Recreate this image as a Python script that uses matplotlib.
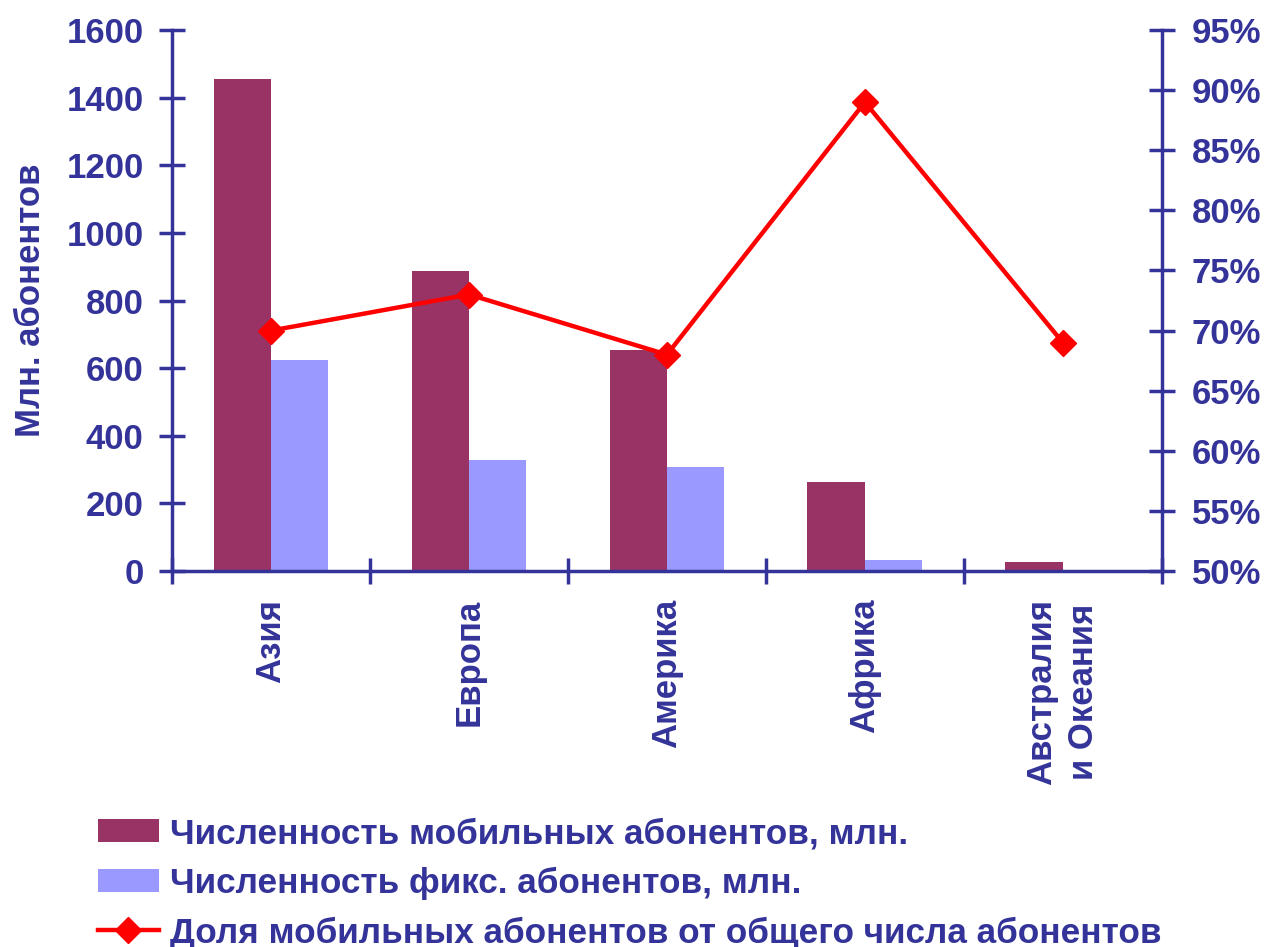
import matplotlib.pyplot as plt
import numpy as np

plt.rcParams['font.family'] = ['Liberation Sans', 'DejaVu Sans']
plt.rcParams['font.weight'] = 'bold'

regions = ['Азия', 'Европа', 'Америка', 'Африка', 'Австралия\nи Океания']
mobile = [1455, 887, 654, 263, 27]  # мобильные абоненты, млн
fixed = [624, 328, 308, 33, 4]  # фиксированные абоненты, млн
share = [70, 73, 68, 89, 69]  # доля мобильных, %

navy = '#333399'
x = np.arange(len(regions))
w = 0.29

fig = plt.figure(figsize=(12.67, 9.47), dpi=100)
ax = fig.add_axes([0.1358, 0.397, 0.7812, 0.5713])
ax2 = ax.twinx()

b1 = ax.bar(x - w / 2, mobile, w, color='#993366', label='Численность мобильных абонентов, млн.')
b2 = ax.bar(x + w / 2, fixed, w, color='#9999FF', label='Численность фикс. абонентов, млн.')
l1, = ax2.plot(x, share, color='red', lw=3.2, marker='D', ms=13,
               label='Доля мобильных абонентов от общего числа абонентов')

ax.set_xlim(-0.5, 4.5)
ax.set_ylim(0, 1600)
ax.set_yticks(np.arange(0, 1601, 200))
ax2.set_ylim(50, 95)
ax2.set_yticks(np.arange(50, 96, 5))
ax2.set_yticklabels([f'{v}%' for v in range(50, 96, 5)])

ax.set_xticks(x)
ax.set_xticklabels(regions, rotation=90, va='top', ha='center', multialignment='center',
                   linespacing=1.35)
ax.set_xticks(np.arange(-0.5, 5, 1), minor=True)
ax.tick_params(axis='x', which='major', length=0, pad=20, labelsize=25, labelcolor=navy)
ax.tick_params(axis='x', which='minor', direction='inout', length=19, width=2.5, color=navy)
ax.tick_params(axis='y', direction='inout', length=19, width=2.5, color=navy,
               labelsize=25, labelcolor=navy, pad=11)
ax2.tick_params(axis='y', direction='inout', length=19, width=2.5, color=navy,
                labelsize=25, labelcolor=navy, pad=12)

for a in (ax, ax2):
    a.spines['top'].set_visible(False)
    for s in ('left', 'right', 'bottom'):
        a.spines[s].set_color(navy)
        a.spines[s].set_linewidth(2.5)
ax.spines['right'].set_visible(False)
ax2.spines['left'].set_visible(False)
ax2.spines['bottom'].set_visible(False)

ax.set_ylabel('Млн. абонентов', fontsize=25, color=navy, fontweight='bold', labelpad=14)

fig.legend(handles=[b1, b2, l1], loc='upper left', bbox_to_anchor=(0.066, 0.152),
           frameon=False, fontsize=25.3, labelcolor=navy, handlelength=1.75,
           handleheight=0.65, handletextpad=0.3, labelspacing=0.47, borderaxespad=0)

fig.savefig('out.png', dpi=100)
